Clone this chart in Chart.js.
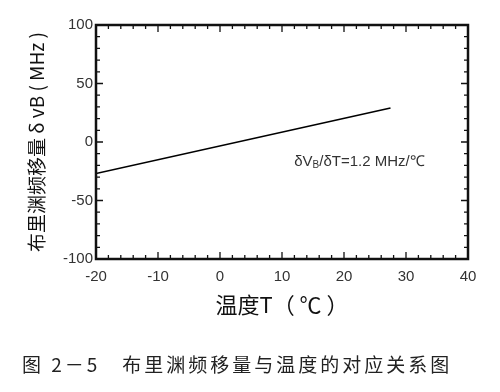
<!DOCTYPE html>
<html>
<head>
<meta charset="utf-8">
<script src="https://cdn.jsdelivr.net/npm/chart.js@4"></script>
<style>
  html, body { margin: 0; padding: 0; background: #fff; }
  #wrap { width: 500px; height: 392px; }
</style>
</head>
<body>
<div id="wrap"><canvas id="shiftChart"></canvas></div>
<script>
// values
const temps = [-20, 27.5];
const shifts = [-27, 29];
const xTicks = [-20, -10, 0, 10, 20, 30, 40];
const yTicks = [-100, -50, 0, 50, 100];

const yTitle = '布里渊频移量 δ vB ( MHz )';
const xTitle = '温度T（ ℃ ）';
const caption = '图 2－5　布里渊频移量与温度的对应关系图';
const noteMain = 'δV';
const noteSub = 'B';
const noteRest = '/δT=1.2 MHz/℃';
const notePos = { x: 22.5, y: -17 };

const cjk = '"Noto Sans CJK SC", sans-serif';
const latin = '"Liberation Sans", Arial, sans-serif';

// inward ticks, the plot frame, the slope note and the caption
const decorations = {
    id: 'decorations',
    afterDraw(chart) {
        const ctx = chart.ctx;
        const area = chart.chartArea;
        const xs = chart.scales.x;
        const ys = chart.scales.y;

        ctx.save();
        ctx.strokeStyle = '#111';
        ctx.lineWidth = 1.3;
        ctx.beginPath();
        for (let v = -20; v <= 40; v += 2) {
            const px = xs.getPixelForValue(v);
            const len = v % 10 === 0 ? 7 : 4;
            ctx.moveTo(px, area.bottom); ctx.lineTo(px, area.bottom - len);
            ctx.moveTo(px, area.top); ctx.lineTo(px, area.top + len);
        }
        for (let v = -100; v <= 100; v += 10) {
            const py = ys.getPixelForValue(v);
            const len = v % 50 === 0 ? 7 : 4;
            ctx.moveTo(area.left, py); ctx.lineTo(area.left + len, py);
            ctx.moveTo(area.right, py); ctx.lineTo(area.right - len, py);
        }
        ctx.stroke();

        ctx.lineWidth = 2.5;
        ctx.strokeRect(area.left, area.top, area.right - area.left, area.bottom - area.top);

        // slope note
        ctx.fillStyle = '#333';
        ctx.textBaseline = 'middle';
        ctx.font = '15px ' + latin;
        const w1 = ctx.measureText(noteMain).width;
        ctx.font = '10px ' + latin;
        const w2 = ctx.measureText(noteSub).width;
        ctx.font = '15px ' + latin;
        const w3 = ctx.measureText(noteRest).width;
        let nx = xs.getPixelForValue(notePos.x) - (w1 + w2 + w3) / 2;
        const ny = ys.getPixelForValue(notePos.y);
        ctx.fillText(noteMain, nx, ny);
        nx += w1;
        ctx.font = '10px ' + latin;
        ctx.fillText(noteSub, nx, ny + 3);
        nx += w2;
        ctx.font = '15px ' + latin;
        ctx.fillText(noteRest, nx, ny);

        // caption under the figure
        ctx.fillStyle = '#222';
        ctx.font = '19px ' + cjk;
        ctx.letterSpacing = '3px';
        ctx.textAlign = 'left';
        ctx.fillText(caption, 22, 365);
        ctx.restore();
    }
};

new Chart(document.getElementById('shiftChart'), {
    type: 'scatter',
    data: {
        datasets: [{
            data: temps.map((t, i) => ({ x: t, y: shifts[i] })),
            showLine: true,
            borderColor: '#000',
            borderWidth: 1.6,
            pointRadius: 0,
            fill: false
        }]
    },
    options: {
        responsive: true,
        maintainAspectRatio: false,
        animation: false,
        layout: { padding: { top: 25, right: 32, bottom: 45, left: 0 } },
        plugins: {
            legend: { display: false },
            tooltip: { enabled: false }
        },
        scales: {
            x: {
                type: 'linear',
                min: -20,
                max: 40,
                afterBuildTicks: axis => { axis.ticks = xTicks.map(v => ({ value: v })); },
                afterFit: axis => { axis.height = 88; },
                grid: { display: false, drawTicks: false },
                border: { display: false },
                ticks: {
                    padding: 9,
                    color: '#333',
                    font: { family: latin, size: 15 }
                },
                title: {
                    display: true,
                    text: xTitle,
                    color: '#111',
                    font: { family: cjk, size: 22 },
                    padding: { top: 0, bottom: 29 }
                }
            },
            y: {
                min: -100,
                max: 100,
                afterBuildTicks: axis => { axis.ticks = yTicks.map(v => ({ value: v })); },
                afterFit: axis => { axis.width = 96; },
                grid: { display: false, drawTicks: false },
                border: { display: false },
                ticks: {
                    padding: 3,
                    color: '#333',
                    font: { family: latin, size: 15 }
                },
                title: {
                    display: true,
                    text: yTitle,
                    color: '#111',
                    font: { family: cjk, size: 19 },
                    padding: { top: 25, bottom: 0 }
                }
            }
        }
    },
    plugins: [decorations]
});
</script>
</body>
</html>
